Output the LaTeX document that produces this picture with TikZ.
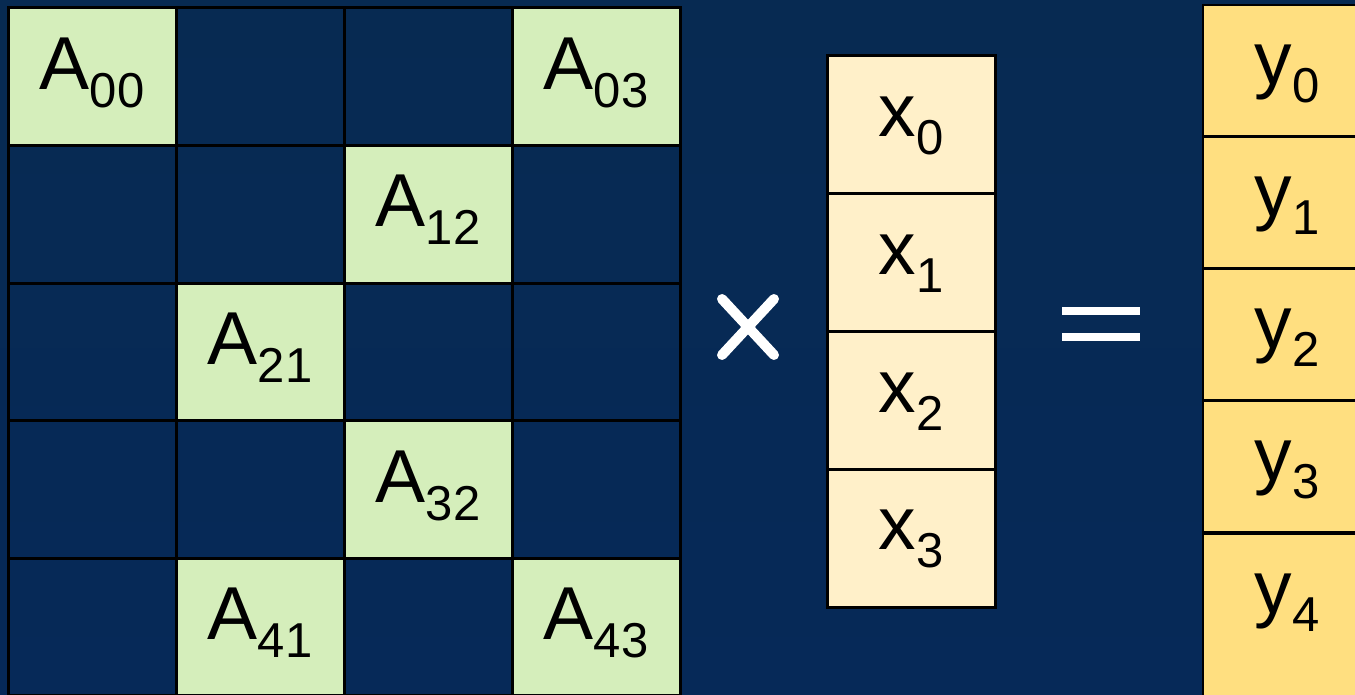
\documentclass[tikz,border=0pt]{standalone}
\usepackage{fontspec}
\setmainfont{Liberation Sans}
\definecolor{bgtop}{HTML}{072A52}
\definecolor{bgmid}{HTML}{101E46}
\definecolor{bgbot}{HTML}{062958}
\definecolor{gcell}{HTML}{D5EEBB}
\definecolor{xcell}{HTML}{FFF0C9}
\definecolor{ycell}{HTML}{FFDF80}
\tikzset{
  cellbox/.style={draw=black, line width=3pt, inner sep=0pt, minimum width=168pt, minimum height=137.5pt},
  gbox/.style={cellbox, fill=gcell},
  dbox/.style={cellbox},
  xbox/.style={cellbox, fill=xcell, minimum height=137.75pt},
  ybox/.style={draw=black, line width=2.5pt, inner sep=0pt, fill=ycell, minimum width=168pt, minimum height=131.75pt},
  lbl/.style={anchor=base, inner sep=0pt, font=\fontsize{75}{80}\selectfont},
}
\newcommand{\sbx}[2]{#1\raisebox{-18pt}{\fontsize{49}{50}\selectfont #2}}
\begin{document}
\begin{tikzpicture}[x=1pt,y=-1pt]
\useasboundingbox (0,0) rectangle (1355,695);
\clip (0,0) rectangle (1355,695);
\shade[top color=bgtop, middle color=bgmid, bottom color=bgbot] (0,0) rectangle (1355,695);

% matrix A
\node[gbox] (a00) at (92,76.75) {};
\node[dbox] (a01) at (260,76.75) {};
\node[dbox] (a02) at (428,76.75) {};
\node[gbox] (a03) at (596,76.75) {};
\node[dbox] (a10) at (92,214.25) {};
\node[dbox] (a11) at (260,214.25) {};
\node[gbox] (a12) at (428,214.25) {};
\node[dbox] (a13) at (596,214.25) {};
\node[dbox] (a20) at (92,351.75) {};
\node[gbox] (a21) at (260,351.75) {};
\node[dbox] (a22) at (428,351.75) {};
\node[dbox] (a23) at (596,351.75) {};
\node[dbox] (a30) at (92,489.25) {};
\node[dbox] (a31) at (260,489.25) {};
\node[gbox] (a32) at (428,489.25) {};
\node[dbox] (a33) at (596,489.25) {};
\node[dbox] (a40) at (92,626.75) {};
\node[gbox] (a41) at (260,626.75) {};
\node[dbox] (a42) at (428,626.75) {};
\node[gbox] (a43) at (596,626.75) {};

\node[lbl] (ta00) at ([yshift=-83pt]a00.north) {\sbx{A}{00}};
\node[lbl] (ta03) at ([yshift=-83pt]a03.north) {\sbx{A}{03}};
\node[lbl] (ta12) at ([yshift=-83pt]a12.north) {\sbx{A}{12}};
\node[lbl] (ta21) at ([yshift=-83pt]a21.north) {\sbx{A}{21}};
\node[lbl] (ta32) at ([yshift=-83pt]a32.north) {\sbx{A}{32}};
\node[lbl] (ta41) at ([yshift=-83pt]a41.north) {\sbx{A}{41}};
\node[lbl] (ta43) at ([yshift=-83pt]a43.north) {\sbx{A}{43}};

% times sign
\draw[white, line width=10pt, line cap=round] (722,299) -- (774,355);
\draw[white, line width=10pt, line cap=round] (774,299) -- (722,355);

% vector x
\node[xbox] (x0) at (911,124.875) {};
\node[xbox] (x1) at (911,262.625) {};
\node[xbox] (x2) at (911,400.375) {};
\node[xbox] (x3) at (911,538.125) {};
\node[lbl] (tx0) at ([yshift=-82pt]x0.north) {\sbx{x}{0}};
\node[lbl] (tx1) at ([yshift=-82pt]x1.north) {\sbx{x}{1}};
\node[lbl] (tx2) at ([yshift=-82pt]x2.north) {\sbx{x}{2}};
\node[lbl] (tx3) at ([yshift=-82pt]x3.north) {\sbx{x}{3}};

% equals sign
\fill[white] (1062,307) rectangle (1140,315);
\fill[white] (1062,333) rectangle (1140,341);

% vector y
\node[ybox] (y0) at (1287,70.875) {};
\node[ybox] (y1) at (1287,202.625) {};
\node[ybox] (y2) at (1287,334.375) {};
\node[ybox] (y3) at (1287,466.125) {};
\node[ybox, minimum height=200pt, anchor=north] (y4) at (1287,532) {};
\node[lbl] (ty0) at ([yshift=-81pt]y0.north) {\sbx{y}{0}};
\node[lbl] (ty1) at ([yshift=-81pt]y1.north) {\sbx{y}{1}};
\node[lbl] (ty2) at ([yshift=-81pt]y2.north) {\sbx{y}{2}};
\node[lbl] (ty3) at ([yshift=-81pt]y3.north) {\sbx{y}{3}};
\node[lbl] (ty4) at ([yshift=-81pt]y4.north) {\sbx{y}{4}};
\end{tikzpicture}
\end{document}
